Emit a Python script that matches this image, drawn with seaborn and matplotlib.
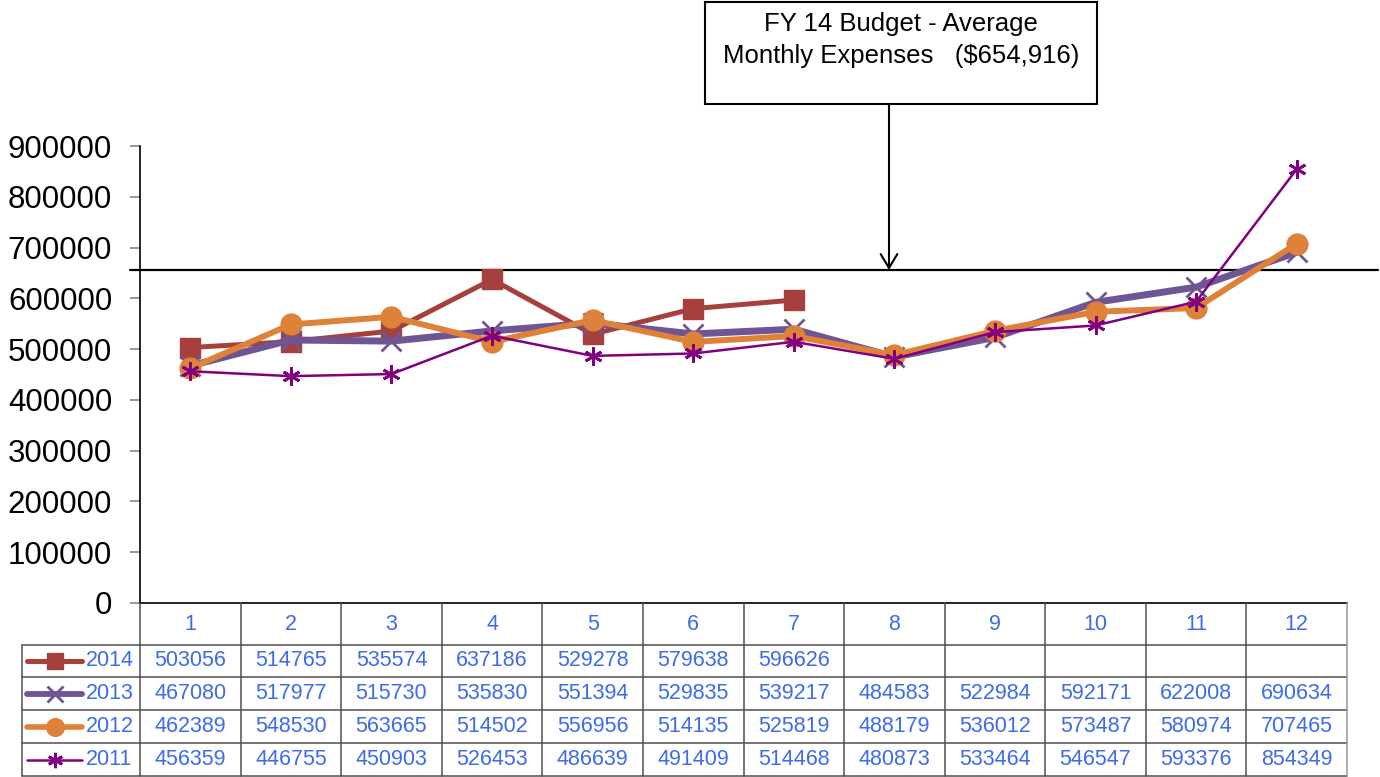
import numpy as np
import seaborn as sns
import matplotlib.pyplot as plt
from matplotlib.patches import Rectangle

months = list(range(1, 13))
years = ["2014", "2013", "2012", "2011"]
exp_2014 = [503056, 514765, 535574, 637186, 529278, 579638, 596626,
            np.nan, np.nan, np.nan, np.nan, np.nan]
exp_2013 = [467080, 517977, 515730, 535830, 551394, 529835, 539217,
            484583, 522984, 592171, 622008, 690634]
exp_2012 = [462389, 548530, 563665, 514502, 556956, 514135, 525819,
            488179, 536012, 573487, 580974, 707465]
exp_2011 = [456359, 446755, 450903, 526453, 486639, 491409, 514468,
            480873, 533464, 546547, 593376, 854349]
budget = 654916
budget_label = "FY 14 Budget - Average\nMonthly Expenses   ($654,916)"
yticks = [0, 100000, 200000, 300000, 400000, 500000, 600000, 700000, 800000, 900000]

series = [exp_2014, exp_2013, exp_2012, exp_2011]
colors = ["#A6403D", "#6F5594", "#DE8139", "#800080"]
markers = ["s", "x", "o", (6, 2, 0)]
widths = [3.6, 5.0, 4.3, 1.8]
msizes = [14, 14, 15, 13]
blue = "#3D6BEB"

sns.set_style("white")
plt.rcParams['font.family'] = ['Liberation Sans', 'DejaVu Sans']
plt.rcParams['text.color'] = 'black'
plt.rcParams['ytick.color'] = 'black'

W, H = 1380, 777
fig = plt.figure(figsize=(W / 100, H / 100), dpi=100)

# main plot area in pixels
left, right, top, bottom = 140, 1347, 146, 603
ax = fig.add_axes([left / W, 1 - bottom / H, (right - left) / W, (bottom - top) / H])
colw = (right - left) / 12.0

for vals, yr, c, m, lw, ms in zip(series, years, colors, markers, widths, msizes):
    mew = 2 if m in ("x", (6, 2, 0)) else 1
    sns.lineplot(x=months, y=vals, ax=ax, color=c, linewidth=lw, marker=m,
                 markersize=ms, markeredgewidth=mew, markeredgecolor=c, label=yr,
                 legend=False)

ax.set_xlim(0.5, 12.5)
ax.set_ylim(0, 900000)
ax.set_yticks(yticks)
ax.set_yticklabels([str(t) for t in yticks], fontsize=22.5, color="black")
ax.set_xticks([])
ax.tick_params(axis="y", which="major", direction="out", length=7, width=1.2,
               color="#888888", pad=13, left=True)
for s in ["top", "right"]:
    ax.spines[s].set_visible(False)
ax.spines["left"].set_color("black")
ax.spines["left"].set_linewidth(1.2)
ax.spines["bottom"].set_color("black")
ax.spines["bottom"].set_linewidth(1.2)

# budget reference line, runs a little past the axes
ax.axhline(budget, xmin=-10 / (right - left), xmax=1 + 31 / (right - left),
           color="black", linewidth=1.6, clip_on=False, zorder=1)

# annotation box and arrow
bx0, by0, bx1, by1 = 705, 2, 1097, 104
fig.patches.append(Rectangle((bx0 / W, 1 - by1 / H), (bx1 - bx0) / W, (by1 - by0) / H,
                             transform=fig.transFigure, fill=False,
                             edgecolor="black", linewidth=1.5))
fig.text(901 / W, 1 - 40 / H, budget_label, ha="center", va="center",
         fontsize=18.5, linespacing=1.4, multialignment="center", color="black")
ax.annotate("", xy=(889 / W, 1 - 270 / H), xytext=(889 / W, 1 - by1 / H),
            xycoords="figure fraction", textcoords="figure fraction",
            arrowprops=dict(arrowstyle="->,head_length=1.0,head_width=0.6",
                            color="black", lw=1.5, shrinkA=0, shrinkB=0))

# data table below the plot
tleft, tbottom = 22, 776
row_edges = [603, 645, 677, 710, 743, 776]
tab = fig.add_axes([tleft / W, 1 - tbottom / H, (right - tleft) / W, (tbottom - bottom) / H])
x_left = 0.5 - (left - tleft) / colw
tab.set_xlim(x_left, 12.5)
tab.set_ylim(tbottom, bottom)
tab.axis("off")

grid_c = "#505050"
for y in row_edges[1:]:
    tab.plot([x_left, 12.5], [y, y], color=grid_c, linewidth=1.1, clip_on=False)
tab.plot([x_left, x_left], [row_edges[1], row_edges[-1]], color=grid_c, linewidth=1.1,
         clip_on=False)
for k in range(13):
    xv = 0.5 + k
    tab.plot([xv, xv], [row_edges[0], row_edges[-1]],
             color="#999999" if k == 12 else grid_c, linewidth=1.1, clip_on=False)

# header row (month numbers)
hy = (row_edges[0] + row_edges[1]) / 2
for mth in months:
    tab.text(mth, hy, str(mth), ha="center", va="center", fontsize=15.5, color=blue)

# series rows
def px(xp):
    return 0.5 + (xp - left) / colw

leg_widths = [3.6, 4.2, 4.0, 1.8]
for i, (vals, yr, c, m, lw, ms) in enumerate(zip(series, years, colors, markers, leg_widths, msizes)):
    ry = (row_edges[i + 1] + row_edges[i + 2]) / 2
    mew = 2 if m in ("x", (6, 2, 0)) else 1
    tab.plot([px(27), px(82)], [ry, ry], color=c, linewidth=lw, solid_capstyle="round",
             clip_on=False)
    tab.plot([px(55)], [ry], marker=m, color=c, markersize=ms * 0.85,
             markeredgewidth=mew, markeredgecolor=c, clip_on=False)
    tab.text(px(86), ry, yr, ha="left", va="center", fontsize=15.5, color=blue)
    for mth, v in zip(months, vals):
        if not np.isnan(v):
            tab.text(mth, ry, str(int(v)), ha="center", va="center", fontsize=15.5,
                     color=blue)

fig.savefig("out.png", dpi=100)
